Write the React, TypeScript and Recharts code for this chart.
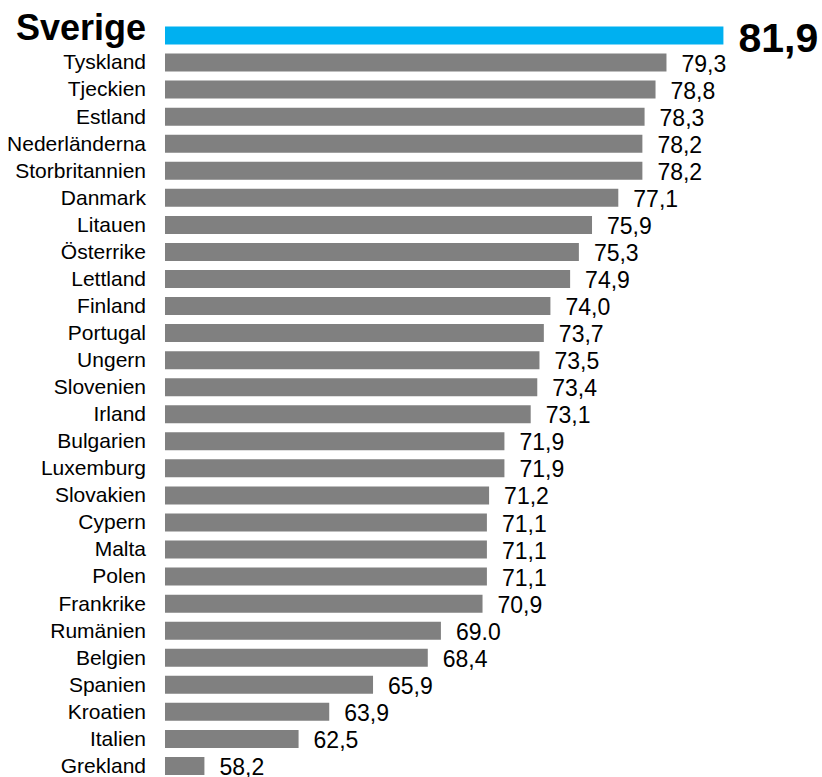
import { Bar, BarChart, Cell, LabelList, XAxis, YAxis } from 'recharts';

const countries = [
  'Sverige', 'Tyskland', 'Tjeckien', 'Estland', 'Nederländerna', 'Storbritannien',
  'Danmark', 'Litauen', 'Österrike', 'Lettland', 'Finland', 'Portugal', 'Ungern',
  'Slovenien', 'Irland', 'Bulgarien', 'Luxemburg', 'Slovakien', 'Cypern', 'Malta',
  'Polen', 'Frankrike', 'Rumänien', 'Belgien', 'Spanien', 'Kroatien', 'Italien', 'Grekland',
];

const values = [
  81.9, 79.3, 78.8, 78.3, 78.2, 78.2, 77.1, 75.9, 75.3, 74.9, 74.0, 73.7, 73.5, 73.4,
  73.1, 71.9, 71.9, 71.2, 71.1, 71.1, 71.1, 70.9, 69.0, 68.4, 65.9, 63.9, 62.5, 58.2,
];

// value labels as printed in the source (note the one with a period)
const valueLabels = [
  '81,9', '79,3', '78,8', '78,3', '78,2', '78,2', '77,1', '75,9', '75,3', '74,9', '74,0',
  '73,7', '73,5', '73,4', '73,1', '71,9', '71,9', '71,2', '71,1', '71,1', '71,1', '70,9',
  '69.0', '68,4', '65,9', '63,9', '62,5', '58,2',
];

const highlight = 'Sverige';

const data = countries.map((name, i) => ({ name, value: values[i], label: valueLabels[i] }));

const FONT = '"Liberation Sans", Arial, sans-serif';
const BLUE = '#00B0F0';
const GREY = '#808080';

function CountryTick(props: any) {
  const { x, y, payload } = props;
  const main = payload.value === highlight;
  return (
    <text
      x={x}
      y={main ? y - 7.5 : y}
      dy="0.35em"
      textAnchor="end"
      fontFamily={FONT}
      fontSize={main ? 36 : 21}
      fontWeight={main ? 700 : 400}
      fill="#000"
    >
      {payload.value}
    </text>
  );
}

function ValueLabel(props: any) {
  const { x, y, width, height, index } = props;
  const main = countries[index] === highlight;
  return (
    <text
      x={x + width + 15}
      y={y + height / 2 + (main ? 2 : 1)}
      dy="0.35em"
      fontFamily={FONT}
      fontSize={main ? 41 : 23}
      fontWeight={main ? 700 : 400}
      fill="#000"
    >
      {valueLabels[index]}
    </text>
  );
}

export default function App() {
  return (
    <div style={{ position: 'absolute', left: 0, top: 0, width: 822, height: 777, overflow: 'hidden', background: '#fff' }}>
      <BarChart
        width={822}
        height={780}
        data={data}
        layout="vertical"
        margin={{ top: 21.5, right: 30.7, bottom: 1, left: 0 }}
        barCategoryGap={0}
      >
        <XAxis type="number" domain={[56.4, 85]} allowDataOverflow hide />
        <YAxis
          type="category"
          dataKey="name"
          width={165}
          tickLine={false}
          axisLine={false}
          tickSize={0}
          tickMargin={19}
          interval={0}
          tick={<CountryTick />}
        />
        <Bar dataKey="value" barSize={18} isAnimationActive={false}>
          {data.map((d) => (
            <Cell key={d.name} fill={d.name === highlight ? BLUE : GREY} />
          ))}
          <LabelList dataKey="label" content={<ValueLabel />} />
        </Bar>
      </BarChart>
    </div>
  );
}
